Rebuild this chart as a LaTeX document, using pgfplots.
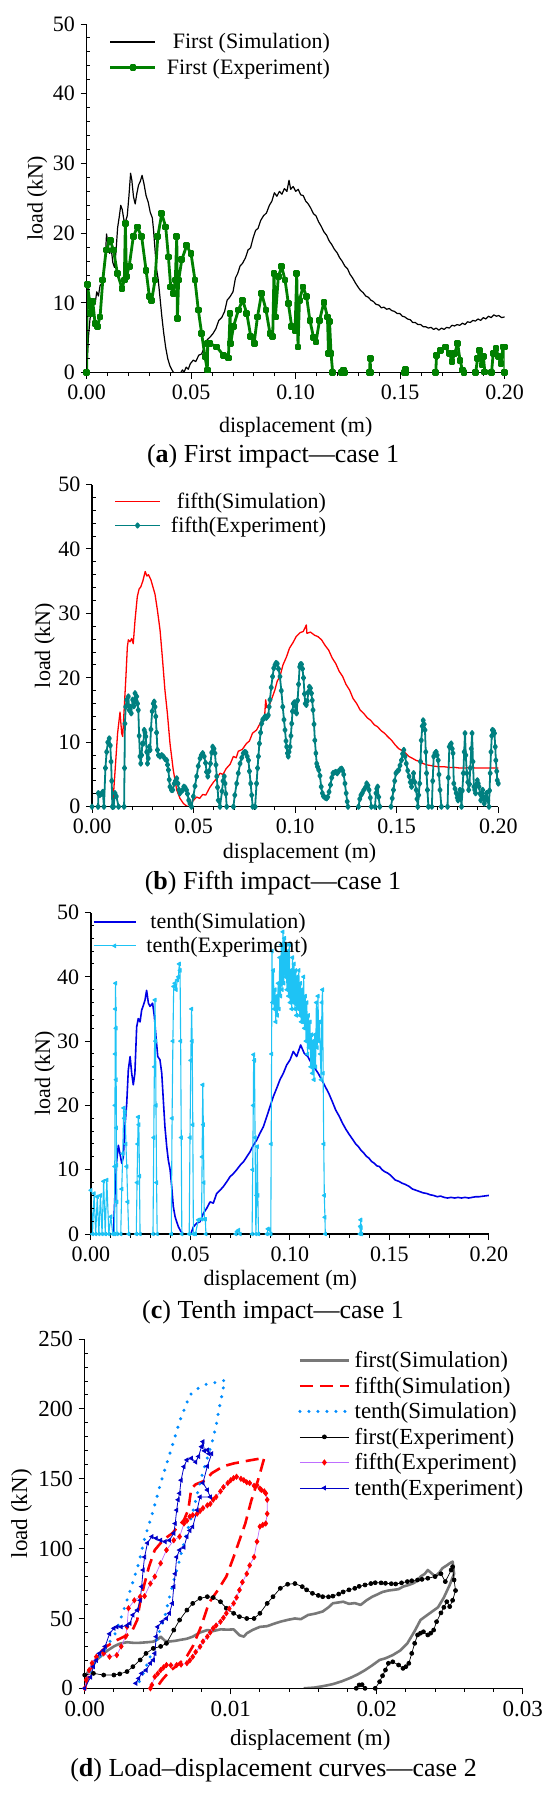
\documentclass[border=0pt]{standalone}
\usepackage{fontspec}
\setmainfont{Liberation Serif}
\usepackage{pgfplots}
\pgfplotsset{compat=1.18}
\definecolor{cgreen}{RGB}{0,128,0}
\definecolor{cteal}{RGB}{0,128,128}
\definecolor{ccyan}{RGB}{30,195,245}
\definecolor{cblue}{RGB}{0,0,230}
\definecolor{cgray}{RGB}{120,120,120}
\definecolor{cred}{RGB}{255,0,0}
\definecolor{cdot}{RGB}{0,140,255}
\definecolor{cviolet}{RGB}{190,110,255}
\definecolor{cdblue}{RGB}{0,0,200}
\pgfplotsset{
  myax/.style={
    scale only axis, axis lines=left, axis line style={-, line width=1.2bp}, axis on top,
    tick align=outside, major tick length=6bp, minor tick length=3.5bp,
    every tick/.style={black, line width=1bp},
    minor y tick style={xshift=3.5bp},
    /pgf/number format/assume math mode=true,
    tick label style={font=\fontsize{22bp}{26bp}\selectfont},
    label style={font=\fontsize{22bp}{26bp}\selectfont},
    ylabel style={inner sep=0pt},
    yticklabel style={inner sep=1bp, xshift=-4.5bp},
    scaled x ticks=false, unbounded coords=jump,
    legend cell align=left,
    xticklabel style={yshift=-3bp, /pgf/number format/fixed, /pgf/number format/fixed zerofill, /pgf/number format/precision=2},
  },
  leg45/.style={legend image code/.code={\draw[mark repeat=2,mark phase=2,##1] plot coordinates {(0bp,0bp) (22.5bp,0bp) (45bp,0bp)};}},
}
\begin{document}
\begin{tikzpicture}
\path[use as bounding box] (0,0) rectangle (550bp,-1796bp);
% ---------------- (a)
\begin{axis}[myax, leg45, at={(86.7bp,-372.7bp)}, anchor=south west, width=418bp, height=348.7bp,
  xmin=0, xmax=0.2, ymin=0, ymax=50, xtick={0,0.05,0.1,0.15,0.2}, ytick={0,10,20,30,40,50},
  minor x tick num=4, minor y tick num=4,
  xlabel={displacement (m)}, ylabel={load (kN)},
  xlabel style={at={(axis description cs:0.5,-0.155)}, anchor=center},
  ylabel style={at={(axis description cs:-0.118,0.5)}, anchor=center},
  legend style={at={(0.053,0.976)}, anchor=north west, draw=none, fill=none, inner sep=0pt, row sep=6.7bp,
    font=\fontsize{22bp}{26bp}\selectfont, nodes={inner sep=1bp}, /tikz/every odd column/.append style={column sep=9bp}}]
\addplot[black, line width=1.2bp, line join=round] coordinates {
(0,0)(0.0008,5.0)(0.0016,7.8)(0.0025,8.6)(0.0033,10.6)(0.0040,9.8)(0.0048,11.6)(0.0056,11.0)(0.0064,12.5)(0.0072,12.8)
(0.0080,13.6)(0.0088,16.0)(0.0095,19.9)(0.0102,18.4)(0.0110,17.1)(0.0117,17.9)(0.0125,15.8)(0.0133,15.1)(0.0140,17.3)(0.0148,20.8)
(0.0156,22.4)(0.0163,24.0)(0.0170,23.4)(0.0178,21.9)(0.0186,21.7)(0.0194,22.5)(0.0202,25.3)(0.0210,28.6)(0.0216,27.6)(0.0224,25.2)
(0.0232,24.2)(0.0240,25.7)(0.0248,26.9)(0.0256,27.4)(0.0265,28.3)(0.0274,27.1)(0.0284,25.4)(0.0294,24.5)(0.0304,23.0)(0.0314,22.2)
(0.0320,20.4)(0.0327,17.6)(0.0334,14.9)(0.0342,13.4)(0.0350,11.0)(0.0359,8.2)(0.0368,5.8)(0.0378,3.6)(0.0388,2.0)(0.0398,1.0)
(0.0408,0.4)(0.0416,0.0)(0.0450,0.0)(0.0458,0.4)(0.0466,0.1)(0.0476,0.8)(0.0486,0.5)(0.0496,1.3)(0.0510,1.8)(0.0522,1.6)
(0.0536,2.5)(0.0550,2.7)(0.0562,3.6)(0.0576,4.7)(0.0590,5.1)(0.0604,5.6)(0.0618,6.3)(0.0632,7.5)(0.0646,7.9)(0.0660,8.8)
(0.0672,10.4)(0.0686,10.9)(0.0700,11.6)(0.0712,13.6)(0.0722,14.2)(0.0734,15.3)(0.0746,15.7)(0.0760,16.5)(0.0772,17.6)(0.0784,17.9)
(0.0796,19.3)(0.0808,20.4)(0.0820,20.7)(0.0832,21.8)(0.0846,22.5)(0.0860,22.9)(0.0874,24.0)(0.0886,24.6)(0.0898,25.8)(0.0910,25.3)
(0.0922,26.0)(0.0934,25.6)(0.0946,26.4)(0.0958,26.0)(0.0968,27.6)(0.0976,26.3)(0.0988,26.7)(0.1000,26.0)(0.1012,26.3)(0.1024,25.5)
(0.1036,25.4)(0.1048,24.6)(0.1060,24.2)(0.1072,23.6)(0.1085,22.8)(0.1097,22.5)(0.1110,21.6)(0.1122,21.0)(0.1135,20.2)(0.1148,19.7)
(0.1160,18.9)(0.1172,18.4)(0.1185,17.7)(0.1198,17.2)(0.1210,16.5)(0.1222,16.0)(0.1235,15.3)(0.1248,14.9)(0.1260,14.1)(0.1272,13.6)
(0.1285,12.9)(0.1298,12.3)(0.1310,11.8)(0.1322,11.5)(0.1335,11.0)(0.1348,10.8)(0.1360,10.4)(0.1372,10.2)(0.1385,9.8)(0.1398,9.7)
(0.1410,9.3)(0.1422,9.4)(0.1435,9.1)(0.1448,9.2)(0.1460,8.9)(0.1472,8.8)(0.1485,8.5)(0.1498,8.5)(0.1510,8.1)(0.1522,8.0)
(0.1535,7.7)(0.1548,7.6)(0.1560,7.2)(0.1572,7.2)(0.1585,6.9)(0.1598,6.9)(0.1610,6.6)(0.1622,6.6)(0.1635,6.4)(0.1648,6.5)
(0.1660,6.2)(0.1672,6.4)(0.1685,6.1)(0.1698,6.4)(0.1710,6.2)(0.1722,6.5)(0.1735,6.4)(0.1748,6.8)(0.1760,6.7)(0.1772,6.9)
(0.1785,6.8)(0.1798,7.1)(0.1810,6.9)(0.1822,7.3)(0.1835,7.2)(0.1848,7.5)(0.1860,7.4)(0.1872,7.7)(0.1885,7.5)(0.1898,7.9)
(0.1910,7.7)(0.1922,8.1)(0.1935,7.9)(0.1948,8.3)(0.1960,8.1)(0.1972,8.2)(0.1985,7.9)(0.2000,8.0)};
\addlegendentry{\hspace{6bp}First (Simulation)}
\addplot[cgreen, line width=2.8bp, line join=round, mark=square*, mark size=2bp, mark options={solid}] coordinates {
(0,0)(0.0003,12.6)(0.0016,9.9)(0.0019,8.5)(0.0029,10.2)(0.004,7.1)(0.0051,6.6)(0.0064,8.0)(0.0077,13.3)(0.0093,17.6)(0.0112,19.0)
(0.0128,17.6)(0.0147,14.2)(0.0169,12.1)(0.018,13.3)(0.0185,21.4)(0.019,13.8)(0.0203,15.2)(0.0223,19.5)(0.0242,20.9)(0.0263,19.5)
(0.0284,14.7)(0.03,10.9)(0.0311,10.4)(0.0327,13.3)(0.034,19.5)(0.0359,22.8)(0.0378,20.9)(0.0391,16.6)(0.0402,12.3)(0.0415,11.4)
(0.0424,13.3)(0.0431,19.5)(0.0434,7.8)(0.044,13.3)(0.0455,16.2)(0.0478,18.2)(0.0499,17.1)(0.0518,13.3)(0.0534,9.0)(0.055,5.6)
(0.0566,2.3)(0.0577,0.4)(0.0579,4.2)(0.059,4.2)(0.0622,3.7)(0.0654,2.5)(0.0678,2.1)(0.0686,8.5)(0.0689,4.2)(0.0702,6.6)
(0.0726,9.0)(0.0746,10.4)(0.0766,8.5)(0.0785,5.2)(0.0801,4.2)(0.0817,8.0)(0.0837,11.4)(0.0858,9.0)(0.0877,5.6)(0.089,5.2)
(0.0896,14.2)(0.0903,8.0)(0.0917,13.8)(0.0933,15.2)(0.0949,13.3)(0.0965,9.9)(0.0981,6.6)(0.0997,6.1)(0.1005,14.2)(0.1011,3.7)
(0.1018,10.4)(0.1035,12.3)(0.1052,10.9)(0.1068,7.5)(0.1085,5.1)(0.1097,4.4)(0.1114,7.5)(0.1135,10.1)(0.1152,8.0)(0.1157,2.8)
(0.1162,7.3)(0.1169,2.8)(0.1177,0)(0.119,nan)
(0.1219,0)(0.1227,0.4)(0.1235,0)(0.130,nan)(0.1353,0)(0.1356,2.0)(0.1359,0)(0.14,nan)(0.1522,0)(0.1525,0.5)(0.1528,0)(0.16,nan)
(0.167,0)(0.1674,2.5)(0.1694,3.2)(0.1715,3.7)(0.1736,2.8)(0.1748,1.6)(0.1761,2.8)(0.1775,4.2)(0.1786,1.8)(0.1798,0.4)(0.1805,0)(0.183,nan)
(0.1861,0)(0.187,2.0)(0.1881,3.2)(0.1891,1.1)(0.1898,2.3)(0.1905,0.1)(0.192,nan)
(0.1937,0)(0.1945,2.8)(0.1958,3.5)(0.197,2.3)(0.1982,1.3)(0.1992,3.7)(0.2,3.7)(0.2,0)};
\addlegendentry{First (Experiment)}
\end{axis}
\node[font=\fontsize{26bp}{30bp}\selectfont] at (273bp,-456bp) {(\textbf{a}) First impact—case 1};
% ---------------- (b)
\begin{axis}[myax, leg45, at={(92bp,-806.7bp)}, anchor=south west, width=406.3bp, height=322.2bp,
  xmin=0, xmax=0.2, ymin=0, ymax=50, xtick={0,0.05,0.1,0.15,0.2}, ytick={0,10,20,30,40,50},
  minor x tick num=4, minor y tick num=4,
  xlabel={displacement (m)}, ylabel={load (kN)},
  xlabel style={at={(axis description cs:0.511,-0.145)}, anchor=center},
  ylabel style={at={(axis description cs:-0.116,0.5)}, anchor=center},
  legend style={at={(0.054,0.977)}, anchor=north west, draw=none, fill=none, inner sep=0pt, row sep=4.9bp,
    font=\fontsize{22bp}{26bp}\selectfont, nodes={inner sep=1bp}, /tikz/every odd column/.append style={column sep=9bp}}]
\addplot[cred, line width=1.3bp, line join=round] coordinates {
(0,0)(0.01,0)(0.0105,1.6)(0.0116,6.7)(0.0126,11.4)(0.0138,14.7)(0.0146,11.4)(0.0151,10.9)(0.0159,15.5)(0.0167,20.2)(0.0174,24.8)
(0.0179,25.9)(0.0187,25.6)(0.0195,26.1)(0.0203,25.3)(0.0212,29.0)(0.0223,32.6)(0.0232,33.8)(0.024,34.1)(0.025,35.0)(0.0262,36.5)
(0.027,35.8)(0.0278,36.0)(0.029,35.2)(0.030,34.1)(0.031,33.0)(0.0322,30.5)(0.0335,27.4)(0.0346,23.3)(0.0359,18.1)(0.0371,14.5)
(0.0384,9.8)(0.040,5.7)(0.0417,2.6)(0.0433,1.3)(0.045,0.5)(0.0466,0.1)(0.048,0)(0.049,0.6)(0.05,1.0)(0.0515,1.5)(0.053,1.3)(0.0545,1.9)(0.056,1.8)
(0.058,3.0)(0.06,3.9)(0.0615,4.4)(0.063,5.2)(0.0645,5.0)(0.066,5.9)(0.068,6.6)(0.0696,7.8)(0.071,7.6)(0.072,8.6)(0.074,8.9)(0.076,9.8)(0.0775,10.2)
(0.079,11.4)(0.081,11.9)(0.0827,12.9)(0.084,13.6)(0.085,14.2)(0.0855,16.6)(0.086,15.4)(0.0876,16.0)(0.089,17.2)(0.09,18.1)(0.0912,19.5)(0.0925,20.2)
(0.094,22.0)(0.0958,23.3)(0.0972,24.6)(0.099,25.5)(0.1005,26.4)(0.1024,27.0)(0.104,27.2)(0.1055,28.2)(0.1058,26.9)(0.1075,27.1)(0.1096,26.6)(0.1112,26.4)
(0.113,25.9)(0.1148,25.0)(0.1165,24.3)(0.1182,23.1)(0.12,22.2)(0.1217,21.0)(0.1234,20.2)(0.125,19.0)(0.1268,18.1)(0.1285,16.8)(0.1303,16.0)
(0.132,15.0)(0.1337,14.5)(0.1355,13.8)(0.1372,13.4)(0.139,12.7)(0.1406,12.4)(0.1423,11.8)(0.144,11.4)(0.1458,10.8)(0.1475,10.3)
(0.1492,9.6)(0.151,9.0)(0.1527,8.7)(0.1544,8.3)(0.156,7.8)(0.1578,7.5)(0.1595,7.2)(0.1613,7.0)(0.163,6.7)(0.1647,6.5)(0.1665,6.4)
(0.1682,6.3)(0.1708,6.2)(0.1733,6.2)(0.176,6.1)(0.1785,6.1)(0.181,6.0)(0.1836,6.0)(0.1862,6.1)(0.1888,6.0)(0.1914,6.0)(0.194,6.0)(0.197,6.0)(0.2,6.0)};
\addlegendentry{\hspace{6bp}fifth(Simulation)}
\addplot[cteal, line width=1.8bp, line join=round, mark=diamond*, mark size=2.2bp, mark options={solid}] coordinates {
(0,0)(0.0030,0)(0.0031,2.1)(0.0038,1.8)(0.0046,2.0)(0.0053,2.3)(0.0059,0)(0.0066,6.0)(0.0072,8.5)(0.0078,10.0)(0.0085,10.6)
(0.0090,9.5)(0.0094,7.0)(0.0097,4.0)(0.0100,0)(0.0106,0)(0.0113,2.1)(0.0120,1.6)(0.0131,0)(0.0158,0)(0.0160,6.0)(0.0162,12.9)
(0.0166,15.5)(0.0171,16.6)(0.0175,15.8)(0.0179,17.1)(0.0183,15.0)(0.0187,15.5)(0.0193,14.5)(0.0200,16.6)(0.0206,15.6)(0.0212,17.6)
(0.0216,16.5)(0.0220,17.1)(0.0224,16.0)(0.0228,15.0)(0.0232,11.0)(0.0236,7.8)(0.0240,6.7)(0.0244,8.0)(0.0248,9.8)(0.0253,9.8)
(0.0257,11.9)(0.0261,11.5)(0.0265,10.9)(0.0269,8.5)(0.0273,6.7)(0.0277,7.5)(0.0282,9.3)(0.0286,8.8)(0.0290,12.0)(0.0296,14.8)
(0.0302,16.0)(0.0306,16.3)(0.0310,15.5)(0.0314,14.0)(0.0318,11.5)(0.0322,8.8)(0.0327,8.0)(0.0335,7.8)(0.0343,8.0)(0.0351,7.8)
(0.0360,7.4)(0.0368,7.2)(0.0372,6.5)(0.0376,5.7)(0.0380,4.2)(0.0384,3.1)(0.0391,2.6)(0.0397,2.6)(0.0405,3.6)(0.0411,4.0)
(0.0417,4.4)(0.0423,3.6)(0.0428,2.6)(0.0433,2.1)(0.0440,2.4)(0.0447,2.6)(0.0452,3.1)(0.0458,3.0)(0.0465,2.6)(0.0470,2.0)
(0.0476,1.0)(0.0482,0.5)(0.0490,0)(0.0499,1.6)(0.0507,3.2)(0.0515,4.7)(0.0523,6.3)(0.0532,7.5)(0.0538,8.0)(0.0545,8.3)
(0.0552,7.8)(0.0559,6.8)(0.0564,5.4)(0.0570,4.7)(0.0576,5.5)(0.0583,6.7)(0.0589,8.4)(0.0594,9.3)(0.0600,9.0)(0.0605,8.3)
(0.0610,6.5)(0.0614,4.7)(0.0618,3.0)(0.0622,1.0)(0.0630,0)(0.0640,2.4)(0.0645,4.0)(0.0651,4.7)(0.0655,3.6)(0.0659,2.0)(0.0663,0)
(0.0696,0)(0.0703,1.8)(0.0712,3.6)(0.0720,5.2)(0.0729,6.7)(0.0737,7.6)(0.0745,8.3)(0.0752,8.5)(0.0758,8.4)(0.0764,7.8)
(0.0770,7.2)(0.0775,5.5)(0.0781,3.6)(0.0786,1.8)(0.0791,0)(0.0803,0)(0.0810,3.6)(0.0815,6.0)(0.0819,7.8)(0.0824,9.8)
(0.0830,11.5)(0.0835,12.9)(0.0840,13.5)(0.0846,13.7)(0.0852,14.0)(0.0858,13.8)(0.0863,14.0)(0.0868,14.2)(0.0872,15.5)(0.0876,16.6)
(0.0882,18.5)(0.0889,20.2)(0.0895,21.5)(0.0901,22.0)(0.0906,22.3)(0.0912,22.2)(0.0918,21.4)(0.0925,20.2)(0.0932,18.0)(0.0939,15.5)
(0.0945,13.5)(0.0950,11.9)(0.0955,10.2)(0.0958,9.3)(0.0962,8.3)(0.0966,7.8)(0.0970,8.5)(0.0975,9.3)(0.0979,11.0)(0.0983,12.9)
(0.0987,14.8)(0.0991,16.0)(0.0996,16.2)(0.0999,15.8)(0.1003,14.8)(0.1007,14.5)(0.1012,16.5)(0.1017,19.0)(0.1022,21.7)(0.1026,22.1)
(0.1031,22.1)(0.1036,21.4)(0.1041,20.0)(0.1046,17.5)(0.1050,16.0)(0.1055,15.8)(0.1060,16.4)(0.1065,17.8)(0.1070,18.6)(0.1075,18.4)
(0.1080,17.6)(0.1084,16.5)(0.1088,15.0)(0.1093,12.8)(0.1097,10.3)(0.1102,8.3)(0.1106,6.7)(0.1110,6.2)(0.1116,5.7)(0.1122,4.8)
(0.1128,3.1)(0.1134,2.1)(0.1140,1.6)(0.1148,1.4)(0.1155,1.3)(0.1160,1.5)(0.1167,2.3)(0.1174,3.4)(0.1180,4.5)(0.1186,5.2)
(0.1193,5.3)(0.1200,5.4)(0.1207,5.2)(0.1214,5.5)(0.1222,5.8)(0.1229,5.9)(0.1234,5.6)(0.1239,5.0)(0.1245,3.6)(0.1251,2.1)
(0.1256,0.8)(0.1260,0)(0.128,nan)
(0.1312,0)(0.1318,1.2)(0.1324,1.8)(0.1330,2.1)(0.1338,2.6)(0.1346,3.0)(0.1352,3.6)(0.1358,3.3)(0.1364,2.6)(0.1370,1.4)(0.1375,0)
(0.1393,0)(0.1398,2.1)(0.1402,2.8)(0.1406,3.1)(0.1411,1.5)(0.1417,0)(0.144,nan)
(0.1472,0)(0.1478,1.3)(0.1484,2.6)(0.1490,4.0)(0.1496,5.2)(0.1503,5.5)(0.1510,5.7)(0.1516,6.4)(0.1523,7.2)(0.1529,8.2)
(0.1535,8.8)(0.1541,7.8)(0.1547,6.7)(0.1554,5.6)(0.1561,4.7)(0.1567,3.8)(0.1573,3.1)(0.1578,4.0)(0.1583,5.2)(0.1589,3.8)
(0.1596,2.6)(0.1600,1.2)(0.1604,0)(0.1608,1.8)(0.1613,3.6)(0.1617,7.0)(0.1621,10.3)(0.1626,12.5)(0.1630,13.4)(0.1635,12.8)
(0.1639,11.9)(0.1643,8.5)(0.1647,5.2)(0.1651,2.6)(0.1656,0)(0.1673,0)(0.1677,4.0)(0.1682,7.8)(0.1688,8.3)(0.1694,8.5)
(0.1699,8.0)(0.1704,7.2)(0.1708,5.0)(0.1713,2.6)(0.1720,0)(0.1750,0)(0.1754,4.5)(0.1759,9.3)(0.1763,9.6)(0.1768,9.8)
(0.1773,9.0)(0.1777,8.3)(0.1781,3.6)(0.1787,2.8)(0.1793,2.1)(0.1798,1.4)(0.1802,1.0)(0.1807,1.8)(0.1811,2.6)(0.1815,1.5)
(0.1819,0)(0.1823,2.5)(0.1828,5.2)(0.1832,8.5)(0.1836,11.4)(0.1840,8.0)(0.1845,5.2)(0.1850,3.8)(0.1854,2.6)(0.1858,3.5)
(0.1862,6.0)(0.1867,9.0)(0.1871,11.4)(0.1875,7.0)(0.1880,3.1)(0.1884,2.6)(0.1888,2.1)(0.1893,3.5)(0.1897,4.1)(0.1901,3.6)
(0.1905,3.1)(0.1910,2.0)(0.1914,1.0)(0.1918,1.8)(0.1923,2.6)(0.1927,1.5)(0.1931,0.5)(0.1937,1.3)(0.1942,2.1)(0.1948,1.0)
(0.1954,0)(0.1957,2.5)(0.1960,5.2)(0.1964,8.5)(0.1968,11.0)(0.1971,11.9)(0.1976,11.8)(0.1981,11.4)(0.1985,9.3)(0.1988,7.2)
(0.1992,5.5)(0.1995,4.1)(0.2000,3.6)};
\addlegendentry{fifth(Experiment)}
\end{axis}
\node[font=\fontsize{26bp}{30bp}\selectfont] at (273bp,-883.3bp) {(\textbf{b}) Fifth impact—case 1};
% ---------------- (c)
\begin{axis}[myax, legend image code/.code={\draw[mark repeat=2,mark phase=2,#1] plot coordinates {(0bp,0bp) (21bp,0bp) (42bp,0bp)};},
  at={(90.9bp,-1234bp)}, anchor=south west, width=398bp, height=321.5bp,
  xmin=0, xmax=0.2, ymin=0, ymax=50, xtick={0,0.05,0.1,0.15,0.2}, ytick={0,10,20,30,40,50},
  minor x tick num=4, minor y tick num=4,
  xlabel={displacement (m)}, ylabel={load (kN)},
  xlabel style={at={(axis description cs:0.476,-0.143)}, anchor=center},
  ylabel style={at={(axis description cs:-0.116,0.5)}, anchor=center},
  legend style={at={(0.0045,1.0)}, anchor=north west, draw=none, fill=none, inner sep=0pt, row sep=5bp,
    font=\fontsize{22bp}{26bp}\selectfont, nodes={inner sep=1bp}, /tikz/every odd column/.append style={column sep=9bp}}]
\addplot[cblue, line width=1.6bp, line join=round] coordinates {
(0,0)(0.0113,0)(0.0121,6.3)(0.013,11.5)(0.0138,13.8)(0.0146,12.5)(0.0155,11.0)(0.0163,12.0)(0.0171,16.7)(0.018,20.3)(0.0188,25.5)
(0.0197,27.6)(0.0205,25.0)(0.0213,23.2)(0.0221,25.0)(0.023,32.2)(0.0238,33.5)(0.0247,33.0)(0.0255,34.8)(0.0264,35.6)(0.0272,36.4)
(0.028,37.9)(0.0289,35.9)(0.0297,35.4)(0.031,35.9)(0.0319,33.8)(0.0327,30.7)(0.0336,27.6)(0.0347,27.1)(0.0356,25.0)(0.0364,20.8)
(0.0372,16.7)(0.0381,13.6)(0.0389,11.5)(0.0398,10.0)(0.0406,7.4)(0.0414,4.3)(0.0423,2.7)(0.0431,1.9)(0.044,1.1)(0.0452,0.4)
(0.0465,0)(0.0502,0)(0.0515,1.1)(0.0532,1.7)(0.0548,1.9)(0.0565,3.2)(0.0582,4.0)(0.0599,5.0)(0.0615,4.8)(0.0632,6.3)
(0.0649,6.8)(0.0666,7.4)(0.0682,8.1)(0.0699,8.9)(0.0716,9.4)(0.0733,10.0)(0.075,10.7)(0.0766,11.2)(0.0783,12.0)(0.08,12.8)
(0.0816,13.8)(0.0833,14.6)(0.085,15.7)(0.0867,16.7)(0.0883,18.2)(0.09,19.8)(0.0917,21.4)(0.0934,22.7)(0.095,24.0)(0.0967,25.0)
(0.0984,26.3)(0.1001,27.1)(0.1017,28.4)(0.1034,27.6)(0.1054,29.4)(0.1072,28.1)(0.109,27.6)(0.1107,26.6)(0.1125,25.8)(0.1142,25.0)
(0.116,24.0)(0.1178,22.9)(0.1195,21.9)(0.1213,20.6)(0.123,19.3)(0.1248,18.3)(0.1265,17.2)(0.1283,16.2)(0.13,15.4)(0.1318,14.6)
(0.1331,14.0)(0.1344,13.6)(0.1358,13.0)(0.1371,12.6)(0.1384,12.1)(0.1397,11.8)(0.141,11.3)(0.1424,11.0)(0.1437,10.6)(0.145,10.5)(0.1463,10.0)(0.1476,9.7)
(0.149,9.5)(0.1503,9.2)(0.1516,8.8)(0.1529,8.4)(0.1547,8.2)(0.1564,7.9)(0.1581,7.7)(0.1599,7.4)(0.1616,7.0)(0.1634,6.8)(0.1652,6.6)(0.167,6.4)
(0.1688,6.3)(0.1705,6.1)(0.1722,6.0)(0.174,5.8)(0.1757,5.9)(0.1775,5.7)(0.1792,5.6)(0.181,5.7)(0.1828,5.6)(0.1845,5.7)(0.1862,5.6)
(0.188,5.7)(0.1898,5.6)(0.1916,5.7)(0.1934,5.8)(0.1951,5.8)(0.1975,5.9)(0.2,6.0)};
\addlegendentry{\hspace{4bp}tenth(Simulation)}
\addplot[ccyan, line width=1.1bp, line join=round, mark=triangle*, mark size=2bp, mark options={solid, rotate=90}] coordinates {
(0.0000,6.8)(0.0008,0.0)(0.0016,6.3)(0.0024,0.0)(0.0032,5.8)(0.0040,0.0)(0.0048,6.0)(0.0056,0.0)(0.0064,8.2)(0.0072,0.0)
(0.0080,8.4)(0.0090,0.0)(0.0100,2.7)(0.0110,0.0)
(0.0118,0)(0.0120,10.5)(0.0121,20)(0.0122,28)(0.0123,35)(0.0124,39)(0.0126,32)(0.0127,24)(0.0128,16.5)(0.0129,10.7)(0.0130,5)(0.0131,0)
(0.0150,0)(0.0155,7)(0.0160,12.5)(0.0165,19.6)(0.0168,18.0)(0.0172,19.0)(0.0176,14)(0.018,10.5)(0.0185,5)(0.019,0)
(0.0228,0)(0.0232,8)(0.0235,14)(0.0238,18.2)(0.0241,17)(0.0244,9)(0.0247,0)
(0.0312,0)(0.0316,15)(0.0319,26)(0.0322,36.4)(0.0325,30)(0.0327,20)(0.0330,8)(0.0333,0)
(0.0404,0)(0.0408,18)(0.0412,30)(0.0416,38.5)(0.0422,39)(0.0428,38)(0.0434,39.5)(0.0440,40)(0.0444,42)(0.0448,41)(0.0451,30)(0.0454,15)(0.0457,0)
(0.0494,0)(0.0498,15)(0.0502,27)(0.0506,35)(0.0509,30)(0.0512,17)(0.0515,0)
(0.0525,0)(0.054,2.2)(0.0556,2.3)(0.0559,12)(0.0562,23.2)(0.0565,17)(0.0568,8)(0.057,2.3)(0.0575,2.3)(0.0578,0)(0.06,nan)
(0.0728,0)(0.0735,0.4)(0.0742,0.6)(0.0750,0)(0.078,nan)
(0.0810,0)(0.0813,10)(0.0816,20)(0.0818,27.9)(0.0822,27)(0.0825,15)(0.0829,0)(0.0833,6)(0.0836,13.6)(0.0839,6)(0.0842,0)(0.086,nan)
(0.0885,0)(0.0890,0.8)(0.0897,0.7)(0.0903,0)
(0.0904,0)(0.0906,14)(0.0908,28)(0.0910,44)(0.0913,36)(0.0917,41)(0.0921,35)(0.0925,38)(0.0929,33)(0.0933,37)(0.0937,34)
(0.0941,39)(0.0945,35)(0.0949,43)(0.0953,37)(0.0957,45)(0.0961,38)(0.0965,47)(0.0969,39)(0.0973,46)(0.0977,40)(0.0981,45)
(0.0985,38)(0.0989,44)(0.0993,37)(0.0997,45)(0.1001,36)(0.1005,41)(0.1009,35)(0.1013,43)(0.1017,36)(0.1021,42)(0.1025,35)
(0.1029,41)(0.1033,34)(0.1037,40)(0.1041,35)(0.1045,41)(0.1049,34)(0.1053,39)(0.1057,33)(0.1061,38)(0.1065,33)(0.1069,40)
(0.1073,32)(0.1077,37)(0.1081,30)(0.1085,36)(0.1089,28)(0.1093,34)(0.1097,29)(0.1101,33)(0.1105,26)(0.1109,31)(0.1113,25)
(0.1117,30)(0.1121,24)(0.1125,31)(0.1129,26)(0.1133,36)(0.1137,29)(0.1141,37)(0.1145,30)(0.1149,33)(0.1153,28)(0.1157,24)
(0.1161,36)(0.1164,38)(0.1167,25)(0.1170,14)(0.1173,6)(0.1176,2.6)(0.1178,0)(0.125,nan)
(0.1352,0)(0.1354,1.2)(0.1356,2.2)(0.1358,1.0)(0.136,0)};
\addlegendentry{tenth(Experiment)}
\end{axis}
\node[font=\fontsize{26bp}{30bp}\selectfont] at (273bp,-1312bp) {(\textbf{c}) Tenth impact—case 1};
% ---------------- (d)
\begin{axis}[myax, legend image code/.code={\draw[mark repeat=2,mark phase=2,#1] plot coordinates {(0bp,0bp) (24.5bp,0bp) (49bp,0bp)};},
  at={(84.7bp,-1688.3bp)}, anchor=south west, width=438bp, height=349.2bp,
  xmin=0, xmax=0.03, ymin=0, ymax=250, xtick={0,0.01,0.02,0.03}, ytick={0,50,100,150,200,250},
  minor x tick num=4, minor y tick num=4,
  tick label style={font=\fontsize{23bp}{27bp}\selectfont},
  label style={font=\fontsize{23bp}{27bp}\selectfont},
  xlabel={displacement (m)}, ylabel={load (kN)},
  xlabel style={at={(axis description cs:0.515,-0.148)}, anchor=center},
  ylabel style={at={(axis description cs:-0.144,0.5)}, anchor=center},
  legend style={at={(0.487,0.968)}, anchor=north west, draw=none, fill=none, inner sep=0pt, row sep=5.9bp,
    font=\fontsize{23bp}{27bp}\selectfont, nodes={inner sep=1bp}, /tikz/every odd column/.append style={column sep=3bp}}]
\addplot[cgray, line width=2.6bp, line join=round] coordinates {
(0,8)(0.0003,13)(0.0006,18)(0.0010,22)(0.0013,25)(0.0017,28)(0.0020,30)(0.0024,32)(0.0029,33)(0.0034,32.5)(0.0038,32.6)
(0.0043,33)(0.0047,33.4)(0.0050,35)(0.0052,37)(0.0055,34)(0.0058,33.5)(0.0062,34)(0.0065,34.6)(0.0070,35.5)(0.0074,37)
(0.0079,40)(0.0084,41.7)(0.0088,41)(0.0093,42.2)(0.0098,42)(0.0102,42.2)(0.0106,38)(0.0109,37)(0.0111,39.4)(0.0115,41.8)
(0.0120,44)(0.0125,44.5)(0.0129,46)(0.0134,47.7)(0.0139,49)(0.0144,50)(0.0148,49.5)(0.0153,52.5)(0.0158,53.5)(0.0163,55)
(0.0167,58)(0.0170,60.9)(0.0174,61.5)(0.0177,62)(0.0181,60.5)(0.0185,61)(0.0189,59.7)(0.0193,63)(0.0197,65.6)(0.0200,67)
(0.0204,69)(0.0208,70)(0.0211,70.4)(0.0215,71)(0.0218,72.8)(0.0222,74)(0.0225,75.2)(0.0228,77)(0.0230,80)(0.0233,82)
(0.0235,84.7)(0.0238,82)(0.0240,80)(0.0243,83)(0.0245,86)(0.0248,88)(0.0250,89.5)(0.0252,90.7)
(0.0253,82)(0.0250,74)(0.0246,65)(0.0242,58)(0.0238,55)(0.0234,52)(0.0230,48.9)(0.0226,41)(0.0221,32.2)(0.0216,27)
(0.0211,23.8)(0.0206,21.5)(0.0202,20.3)(0.0197,16.5)(0.0192,13)(0.0187,10)(0.0182,7.5)(0.0176,5)(0.0170,3)(0.0163,1.5)(0.0157,0.5)(0.0150,0)};
\addlegendentry{first(Simulation)}
\addplot[cred, line width=2.6bp, dash pattern=on 13bp off 7bp] coordinates {
(0,0)(0.0003,10)(0.0006,18)(0.001,25)(0.0015,30)(0.0021,34)(0.0027,37)(0.0032,40)(0.0036,49)(0.0038,62)(0.0041,75)(0.0044,87)
(0.0048,99)(0.0052,104)(0.0056,108)(0.006,111)(0.0064,116)(0.0068,120.5)(0.0071,128)(0.0073,143)(0.0076,146)(0.0083,149)
(0.0087,154)(0.0095,159)(0.0102,161)(0.0112,163)(0.0123,165)
(0.0119,150)(0.0114,134)(0.0110,118)(0.0106,106)(0.0102,94)(0.0097,80)(0.0091,70)(0.0085,61)(0.0080,45)(0.0074,30)(0.0070,23)
(0.0064,17)(0.0058,12)(0.0053,6)(0.0049,0)};
\addlegendentry{fifth(Simulation)}
\addplot[cdot, line width=3.4bp, line cap=round, dash pattern=on 0bp off 9bp] coordinates {
(0,0)(0.0005,15.5)(0.0012,25)(0.0021,39.4)(0.0026,53.7)(0.0032,72.8)(0.0037,89.5)(0.0041,107)(0.0047,127.6)(0.0052,146.8)
(0.0058,167)(0.0065,191)(0.0072,210)(0.0078,215)(0.0084,218)(0.0090,219)(0.0096,220.5)
(0.0094,210)(0.0092,200)(0.0090,188)(0.0087,175)(0.0084,165)(0.0081,155)(0.0078,143)(0.0075,130)(0.0071,115)(0.0067,100)
(0.0064,88)(0.0061,77)(0.0058,65)(0.0055,52)(0.0051,40)(0.0047,28)(0.0043,18)(0.0039,8)(0.0036,2)};
\addlegendentry{tenth(Simulation)}
\addplot[black, line width=0.7bp, mark=*, mark size=2bp, mark options={solid}] coordinates {
(0,9.5)(0.0006,10.7)(0.0013,9.5)(0.0020,9.5)(0.0024,10.3)(0.0029,12)(0.0033,15.5)(0.0038,20.3)(0.0042,25)(0.0047,28.6)
(0.0052,30)(0.0056,32.2)(0.0061,41.7)(0.0065,48.9)(0.0070,56)(0.0074,60.8)(0.0079,64.4)(0.0084,65.6)(0.0088,65)(0.0093,62)
(0.0097,57.3)(0.0102,53.7)(0.0106,51.3)(0.0111,50)(0.0116,50)(0.0120,53.7)(0.0125,60.8)(0.0129,65.6)(0.0134,71.6)(0.0139,74.5)
(0.0144,75)(0.0149,72.8)(0.0152,70.5)(0.0156,68)(0.0160,66.5)(0.0163,65.6)(0.0167,65.5)(0.0170,66)(0.0174,67.5)(0.0177,69)(0.0181,70.5)(0.0185,71.6)
(0.0188,73)(0.0192,74)(0.0196,75)(0.0199,75.6)(0.0203,75.5)(0.0206,75.2)(0.0210,74.9)(0.0213,74.7)(0.0217,75.5)(0.0221,76.4)(0.0224,77)(0.0228,77.6)
(0.0231,78)(0.0235,78.8)(0.0240,80)(0.0244,82)(0.0247,76.4)(0.0251,84.7)(0.0252,87)(0.0253,77.6)(0.0254,70)(0.0252,63)
(0.0250,58.5)(0.0248,62)(0.0246,58)(0.0244,54)(0.0241,47.7)(0.0239,41.7)(0.0237,39.5)(0.0235,38.2)(0.0232,40.5)(0.0230,39.5)(0.0228,38.2)
(0.0226,32.2)(0.0224,25)(0.0222,17.9)(0.0220,15.5)(0.0218,14.3)(0.0215,16.7)(0.0211,19)(0.0208,17.9)(0.0206,13.1)(0.0204,9)(0.0202,4.7)(0.0199,0)
(0.0195,nan)(0.0186,0)(0.0188,2.4)(0.0190,2.6)(0.0192,0)};
\addlegendentry{first(Experiment)}
\addplot[cviolet, line width=0.7bp, mark=diamond*, mark size=2.6bp, mark options={solid, cred, draw=cred}] coordinates {
(0,0)(0.0001,6)(0.0003,13)(0.0005,18)(0.0008,22.6)(0.0013,25)(0.0017,22.6)(0.0022,23.8)(0.0025,30)(0.0028,37)
(0.0029,44)(0.0030,57.3)(0.0034,63)(0.0038,65.6)(0.0041,66)(0.0045,75)(0.0048,80)(0.0052,89.5)(0.0056,99)
(0.0061,106)(0.0065,108.6)(0.0068,118)(0.0070,120)(0.0072,123)(0.0074,124)(0.0077,125)(0.0079,127)(0.0081,129)(0.0084,131)(0.0086,132)(0.0088,135)(0.0090,137)
(0.0093,141)(0.0095,144)(0.0098,147)(0.0100,149)(0.0102,150.5)(0.0104,151.5)(0.0107,150)(0.0109,149)(0.0111,147.5)(0.0113,147)(0.0116,145)(0.0118,145.5)(0.0120,143)(0.0121,142)
(0.0123,141)(0.0124,139.6)(0.0125,135)(0.0125,125)(0.0124,118)(0.0122,117)(0.0120,115.8)(0.0118,105)(0.0116,94)(0.0113,88)(0.0111,82)(0.0108,76)(0.0106,70.4)(0.0104,65)
(0.0102,60.8)(0.0099,57)(0.0097,53.7)(0.0095,50.5)(0.0093,47.7)(0.0090,45)(0.0088,43)(0.0086,40)(0.0084,37)(0.0081,33.5)(0.0079,29.8)(0.0076,26)(0.0074,22.6)(0.0072,20)
(0.0070,18)(0.0066,17)(0.0063,16.7)(0.0059,16.5)(0.0056,16.7)(0.0054,15)(0.0052,13)(0.0050,10.5)(0.0048,8.3)(0.0046,2.4)(0.0045,0)};
\addlegendentry{fifth(Experiment)}
\addplot[cdblue, line width=0.8bp, mark=triangle*, mark size=2.2bp, mark options={solid, rotate=90}] coordinates {
(0,0)(0.0004,8)(0.0006,15.5)(0.0008,20)(0.0010,25)(0.0013,27.4)(0.0014,30)(0.0017,39)(0.0020,43)(0.0022,44)
(0.0025,44)(0.0029,45)(0.0031,46.5)(0.0033,52.5)(0.0036,56)(0.0038,63)(0.0039,72.8)(0.0040,84.7)(0.0041,94)(0.0043,104)
(0.0046,108.6)(0.0049,107.4)(0.0052,106)(0.0055,105)(0.0058,106)(0.0061,111)(0.0062,118)(0.0063,127.6)(0.0064,135)(0.0065,139.6)
(0.0066,149)(0.0068,158.7)(0.0070,163.5)(0.0073,164.7)(0.0076,162)(0.0078,166)(0.0080,173)(0.0081,176.6)(0.0082,170)(0.0084,170.6)(0.0085,168)
(0.0087,168)(0.0084,159)(0.0081,147)(0.0084,142)(0.0086,137)(0.0079,137)(0.0077,127.6)(0.0074,115.7)(0.0072,113)(0.0070,108.6)
(0.0068,101)(0.0065,99)(0.0063,94)(0.0062,82)(0.0061,72.8)(0.0060,60.8)(0.0058,53.7)(0.0056,50)(0.0053,47.7)(0.0050,44)
(0.0049,37)(0.0048,25)(0.0047,20.3)(0.0045,18)(0.0042,13)(0.0039,10.7)(0.0037,7.1)(0.0035,3.6)};
\addlegendentry{tenth(Experiment)}
\end{axis}
\node[font=\fontsize{26bp}{30bp}\selectfont] at (273.5bp,-1770.3bp) {(\textbf{d}) Load–displacement curves—case 2};
\end{tikzpicture}
\end{document}
